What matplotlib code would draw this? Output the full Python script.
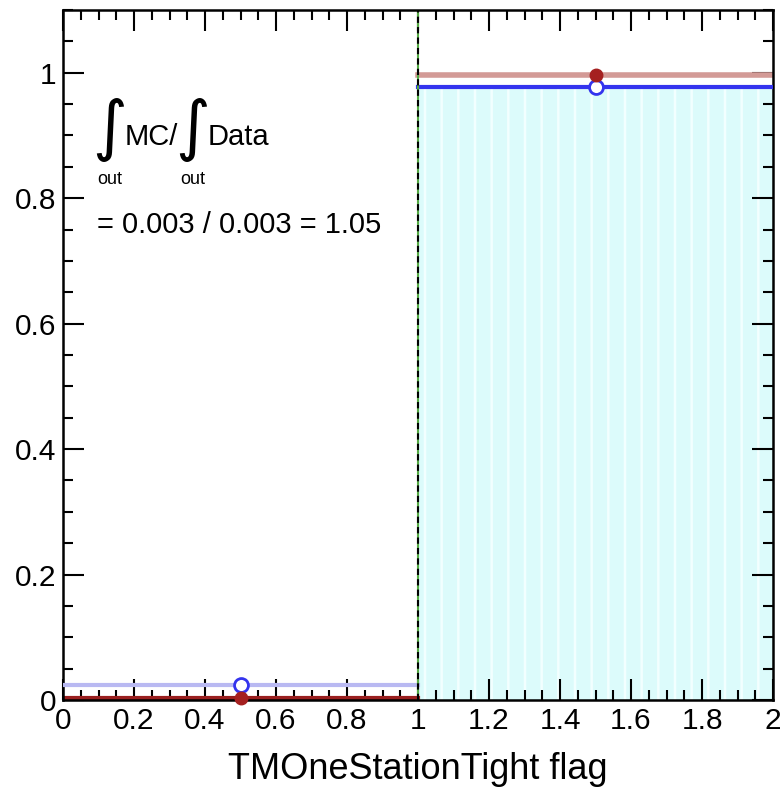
import numpy as np
import matplotlib.pyplot as plt
from matplotlib.ticker import MultipleLocator

plt.rcParams['font.family'] = ['Liberation Sans', 'DejaVu Sans']
plt.rcParams['hatch.linewidth'] = 1.8

# bin edges and contents (fraction of events per flag value)
edges = np.array([0.0, 1.0, 2.0])
centers = np.array([0.5, 1.5])
mc = np.array([0.024, 0.977])
data = np.array([0.003, 0.997])
ratio_text = "= 0.003 / 0.003 = 1.05"
xticklabels = ['0', '0.2', '0.4', '0.6', '0.8', '1', '1.2', '1.4', '1.6', '1.8', '2']
yticklabels = ['0', '0.2', '0.4', '0.6', '0.8', '1']

fig = plt.figure(figsize=(7.8, 7.96), dpi=100, facecolor="w")
ax = fig.add_axes([0.0808, 0.1206, 0.9103, 0.8668])

# filled MC histogram only for the passing bin
ax.bar(edges[1], mc[1], width=1.0, align='edge', color='#dcfbfb',
       hatch='|', edgecolor='#f2ffff', linewidth=0, zorder=1)

# MC line (blue) and data line (red) per bin
mc_cols = ['#b9b9f2', '#3434ee']
data_cols = ['#9a1f1f', '#d39a96']
data_lw = [3, 4]
for i in range(2):
    ax.plot(edges[i:i + 2], [mc[i], mc[i]], color=mc_cols[i], lw=3, zorder=3)
    ax.plot(edges[i:i + 2], [data[i], data[i]], color=data_cols[i], lw=data_lw[i], zorder=2)

ax.plot(centers, mc, 'o', mfc='white', mec='#3434ee', mew=2, ms=10, zorder=5, clip_on=False)
ax.plot(centers, data, 'o', color='#a52020', ms=9, zorder=6, clip_on=False)

# boundary of the cut
ax.axvline(1.0, color='#55aa44', lw=1.5, zorder=4)
ax.axvline(1.0, color='black', lw=1.5, ls=(0, (3, 2)), zorder=4)

# integral label, built from pieces
ax.text(0.0817, 0.908, r"$\int$", fontsize=34, va='center', math_fontfamily='dejavusans')
ax.text(0.0958, 0.823, "out", fontsize=13)
ax.text(0.1746, 0.885, "MC/", fontsize=21)
ax.text(0.3155, 0.908, r"$\int$", fontsize=34, va='center', math_fontfamily='dejavusans')
ax.text(0.3296, 0.823, "out", fontsize=13)
ax.text(0.4085, 0.885, "Data", fontsize=21)
ax.text(0.096, 0.745, ratio_text, fontsize=21)

ax.set_xlim(0, 2)
ax.set_ylim(0, 1.1)
ax.xaxis.set_minor_locator(MultipleLocator(0.05))
ax.yaxis.set_minor_locator(MultipleLocator(0.05))
ax.set_xticks(np.arange(0, 2.01, 0.2))
ax.set_xticklabels(xticklabels)
ax.set_yticks(np.arange(0, 1.01, 0.2))
ax.set_yticklabels(yticklabels)
ax.tick_params(which='both', direction='in', top=True, right=True, labelsize=21.5, pad=5)
ax.tick_params(which='major', length=15, width=1.5)
ax.tick_params(which='minor', length=7, width=1.5)
for s in ax.spines.values():
    s.set_linewidth(1.8)

ax.set_xlabel('TMOneStationTight flag', fontsize=26, labelpad=12)

plt.savefig("out.png", dpi=100)
plt.close()
